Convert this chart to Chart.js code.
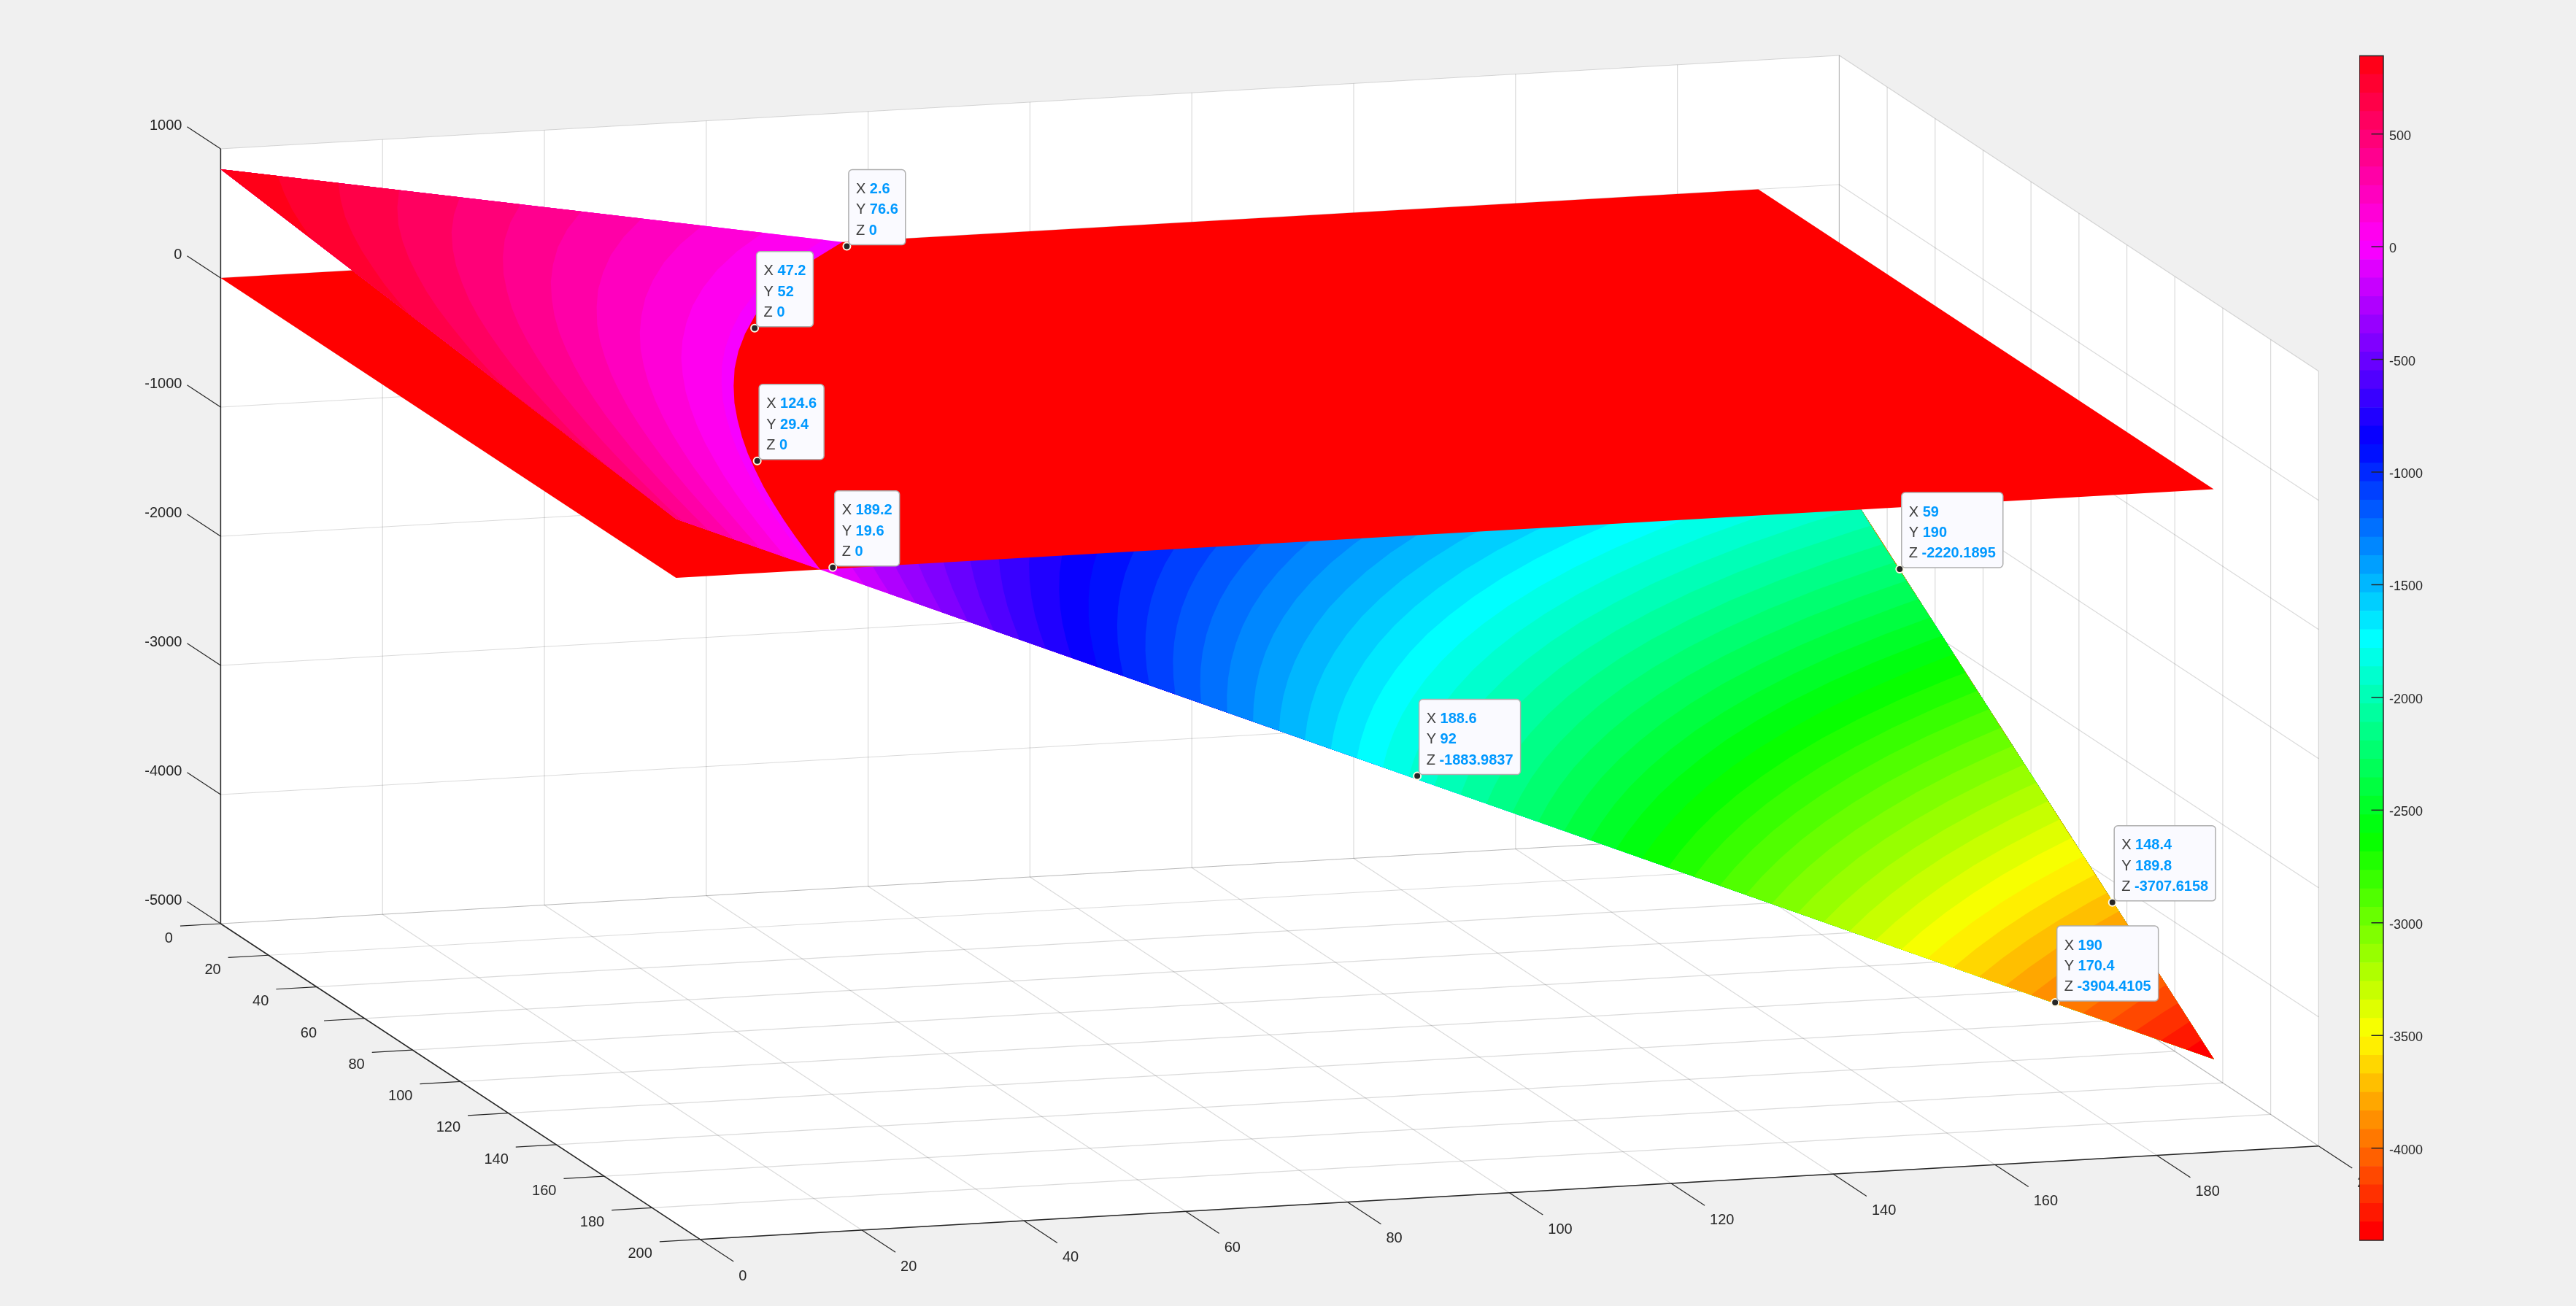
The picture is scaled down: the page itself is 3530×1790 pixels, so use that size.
<!DOCTYPE html>
<html>
<head>
<meta charset="utf-8">
<title>Surface</title>
<script src="https://cdn.jsdelivr.net/npm/chart.js@4"></script>
<style>
    html, body { margin: 0; padding: 0; background: #f0f0f0; }
    #wrap { position: relative; width: 3530px; height: 1790px; overflow: hidden; }
    #mainChart { position: absolute; left: 0; top: 0; }
    #barChart { position: absolute; left: 3233px; top: 61px; }
</style>
</head>
<body>
<div id="wrap">
    <canvas id="mainChart" width="3530" height="1790"></canvas>
    <canvas id="barChart" width="110" height="1654"></canvas>
</div>
<script>
// Axis ticks
const xTicks = [0, 20, 40, 60, 80, 100, 120, 140, 160, 180, 200];
const yTicks = [0, 20, 40, 60, 80, 100, 120, 140, 160, 180, 200];
const zTicks = [1000, 0, -1000, -2000, -3000, -4000, -5000];

// Surface heights: one row per X, one column per Y
const xRows = [0, 10, 20, 30, 40, 50, 60, 70, 80, 90, 100, 110, 120, 130, 140, 150, 160, 170, 180, 190];
const yCols = [0, 38, 76, 114, 152, 190];
const zRows = [
    [842, 426, 9, -407, -824, -1240],
    [822, 376, -70, -516, -962, -1407],
    [801, 326, -149, -624, -1099, -1574],
    [781, 277, -228, -732, -1237, -1741],
    [761, 227, -307, -841, -1374, -1908],
    [741, 178, -386, -949, -1512, -2075],
    [720, 128, -465, -1057, -1650, -2242],
    [700, 78, -543, -1165, -1787, -2409],
    [680, 29, -622, -1274, -1925, -2576],
    [660, -21, -701, -1382, -2062, -2743],
    [639, -70, -780, -1490, -2200, -2910],
    [619, -120, -859, -1598, -2338, -3077],
    [599, -170, -938, -1707, -2475, -3244],
    [579, -219, -1017, -1815, -2613, -3411],
    [558, -269, -1096, -1923, -2750, -3578],
    [538, -318, -1175, -2031, -2888, -3745],
    [518, -368, -1254, -2140, -3026, -3911],
    [498, -418, -1333, -2248, -3163, -4078],
    [477, -467, -1412, -2356, -3301, -4245],
    [457, -517, -1491, -2465, -3439, -4412]
];

// Flat red plane at Z = 0
const planeX = [0, 190, 190, 0];
const planeY = [0, 0, 190, 190];
const planeZ = [0, 0, 0, 0];

// Data tips
const tipX = [2.6, 47.2, 124.6, 189.2, 59, 188.6, 148.4, 190];
const tipY = [76.6, 52, 29.4, 19.6, 190, 92, 189.8, 170.4];
const tipZ = [0, 0, 0, 0, -2220.1895, -1883.9837, -3707.6158, -3904.4105];

// Colour limits and colour bar ticks
const colorMin = -4409;
const colorMax = 847;
const colorCount = 64;
const colorTicks = [500, 0, -500, -1000, -1500, -2000, -2500, -3000, -3500, -4000];

const TEXT = '#262626';
const GRID = 'rgba(38,38,38,0.17)';
const FONT = '"Liberation Sans", Arial, sans-serif';

// Fixed view of the box: data units to canvas pixels
function project(x, y, z) {
    return {
        x: 302.4 + 3.2845 * x + 11.09 * y,
        y: 381 + 2.1635 * x - 0.64 * y - 0.177 * z
    };
}

// hsv(64) colour map, index 0 is the lowest band
function bandColor(k) {
    const h = k / colorCount * 6;
    const i = Math.floor(h);
    const f = h - i;
    const up = Math.round(255 * f);
    const down = Math.round(255 * (1 - f));
    const rgb = [[255, up, 0], [down, 255, 0], [0, 255, up], [0, down, 255], [up, 0, 255], [255, 0, down]][i % 6];
    return `rgb(${rgb[0]},${rgb[1]},${rgb[2]})`;
}

function bandLevel(k) {
    return colorMin + k * (colorMax - colorMin) / colorCount;
}

// Where a row of the table reaches height L, heights fall along Y
function levelY(row, L) {
    const last = row.length - 1;
    if (L > row[0]) return -1;
    if (L < row[last]) return 1e6;
    for (let j = 0; j < last; j++) {
        if (L <= row[j] && L >= row[j + 1]) {
            return yCols[j] + (row[j] - L) / (row[j] - row[j + 1]) * (yCols[j + 1] - yCols[j]);
        }
    }
    return -1;
}

// Contour line of height L through the table, held to the edges of the surface
function levelCurve(L) {
    const last = yCols.length - 1;
    const pts = [];
    let prevState = null;
    xRows.forEach((xv, i) => {
        const row = zRows[i];
        const y = levelY(row, L);
        const state = y < 0 ? -1 : (y > yCols[last] ? 1 : 0);
        if (i > 0 && state !== prevState) {
            const col = (state === 1 || prevState === 1) ? last : 0;
            const a = zRows[i - 1][col];
            const t = (L - a) / (row[col] - a);
            if (t >= 0 && t <= 1) {
                pts.push(project(xRows[i - 1] + t * (xv - xRows[i - 1]), yCols[col], L));
            }
        }
        if (state === 0) pts.push(project(xv, y, L));
        else if (state === 1) pts.push(project(xv, yCols[last], row[last]));
        else pts.push(project(xv, yCols[0], row[0]));
        prevState = state;
    });
    return pts;
}

function lowerRegion(L) {
    const last = yCols.length - 1;
    const endX = xRows[xRows.length - 1];
    return levelCurve(L).concat([
        project(endX, yCols[last], zRows[xRows.length - 1][last]),
        project(xRows[0], yCols[last], zRows[0][last])
    ]);
}

function upperRegion(L) {
    const endX = xRows[xRows.length - 1];
    return levelCurve(L).concat([
        project(endX, yCols[0], zRows[xRows.length - 1][0]),
        project(xRows[0], yCols[0], zRows[0][0])
    ]);
}

// Dataset helpers
function lineSet(pts, color, width) {
    return { data: pts, borderColor: color, borderWidth: width, pointRadius: 0, fill: false, tension: 0 };
}

function polySet(pts, color) {
    return {
        data: pts.concat([pts[0]]),
        borderColor: color,
        borderWidth: 0,
        backgroundColor: color,
        pointRadius: 0,
        fill: 'shape',
        tension: 0
    };
}

const datasets = [];
const xMax = xTicks[xTicks.length - 1];
const yMax = yTicks[yTicks.length - 1];
const zMax = zTicks[0];
const zMin = zTicks[zTicks.length - 1];

// White floor and back walls
datasets.push(polySet([project(0, 0, zMin), project(xMax, 0, zMin), project(xMax, yMax, zMin), project(0, yMax, zMin)], '#ffffff'));
datasets.push(polySet([project(0, 0, zMax), project(0, yMax, zMax), project(0, yMax, zMin), project(0, 0, zMin)], '#ffffff'));
datasets.push(polySet([project(0, yMax, zMax), project(xMax, yMax, zMax), project(xMax, yMax, zMin), project(0, yMax, zMin)], '#ffffff'));

// Grid lines
xTicks.forEach(v => {
    datasets.push(lineSet([project(v, 0, zMin), project(v, yMax, zMin)], GRID, 1.2));
    datasets.push(lineSet([project(v, yMax, zMin), project(v, yMax, zMax)], GRID, 1.2));
});
yTicks.forEach(v => {
    datasets.push(lineSet([project(0, v, zMin), project(xMax, v, zMin)], GRID, 1.2));
    datasets.push(lineSet([project(0, v, zMin), project(0, v, zMax)], GRID, 1.2));
});
zTicks.forEach(v => {
    datasets.push(lineSet([project(0, 0, v), project(0, yMax, v)], GRID, 1.2));
    datasets.push(lineSet([project(0, yMax, v), project(xMax, yMax, v)], GRID, 1.2));
});

// Axis lines and tick marks
datasets.push(lineSet([project(0, 0, zMax), project(0, 0, zMin)], TEXT, 1.5));
datasets.push(lineSet([project(0, 0, zMin), project(xMax, 0, zMin)], TEXT, 1.5));
datasets.push(lineSet([project(xMax, 0, zMin), project(xMax, yMax, zMin)], TEXT, 1.5));
xTicks.forEach(v => datasets.push(lineSet([project(v, 0, zMin), project(v, -5, zMin)], TEXT, 1.2)));
yTicks.forEach(v => datasets.push(lineSet([project(xMax, v, zMin), project(xMax + 14, v, zMin)], TEXT, 1.2)));
zTicks.forEach(v => datasets.push(lineSet([project(0, 0, v), project(-14, 0, v)], TEXT, 1.2)));

// Surface below the plane, painted from the top band down
let zeroBand = 0;
while (bandLevel(zeroBand + 1) <= 0) zeroBand++;
datasets.push(polySet(lowerRegion(0), bandColor(zeroBand)));
for (let k = zeroBand; k > 0; k--) {
    datasets.push(polySet(lowerRegion(bandLevel(k)), bandColor(k - 1)));
}

// The plane hides whatever of the surface is under it
datasets.push(polySet(planeX.map((v, i) => project(v, planeY[i], planeZ[i])), '#ff0000'));

// Surface above the plane
datasets.push(polySet(upperRegion(0), bandColor(zeroBand)));
for (let k = zeroBand + 1; k < colorCount; k++) {
    datasets.push(polySet(upperRegion(bandLevel(k)), bandColor(k)));
}

// Data tip markers
datasets.push({
    data: tipX.map((v, i) => project(v, tipY[i], tipZ[i])),
    showLine: false,
    pointRadius: 5,
    pointBackgroundColor: TEXT,
    pointBorderColor: '#fffbe6',
    pointBorderWidth: 2
});

// Chart.js paints the first dataset last
datasets.reverse();

// Tick labels and data tip boxes go on top of the datasets
const labelPlugin = {
    id: 'labelPlugin',
    afterDatasetsDraw(chart) {
        const ctx = chart.ctx;
        const sx = chart.scales.x;
        const sy = chart.scales.y;
        const at = p => ({ x: sx.getPixelForValue(p.x), y: sy.getPixelForValue(p.y) });

        ctx.save();
        ctx.font = '20px ' + FONT;
        ctx.fillStyle = TEXT;
        ctx.textBaseline = 'middle';

        ctx.textAlign = 'right';
        xTicks.forEach(v => {
            const p = at(project(v, -5, zMin));
            ctx.fillText(String(v), p.x - 10, p.y + 17);
        });
        zTicks.forEach(v => {
            const p = at(project(-14, 0, v));
            ctx.fillText(String(v), p.x - 7, p.y - 1);
        });
        ctx.textAlign = 'left';
        yTicks.forEach(v => {
            const p = at(project(xMax + 14, v, zMin));
            ctx.fillText(String(v), p.x + 7, p.y + 20);
        });

        tipX.forEach((v, i) => drawTip(ctx, at(project(v, tipY[i], tipZ[i])), [v, tipY[i], tipZ[i]]));
        ctx.restore();
    }
};

function drawTip(ctx, p, values) {
    const names = ['X', 'Y', 'Z'];
    const plain = '20px ' + FONT;
    const bold = 'bold 20px ' + FONT;
    const widths = values.map((v, i) => {
        ctx.font = plain;
        const a = ctx.measureText(names[i] + ' ').width;
        ctx.font = bold;
        return a + ctx.measureText(String(v)).width;
    });
    const w = Math.max(...widths) + 20;
    const h = 103;
    const left = p.x + 2.5;
    const top = p.y - 2 - h;

    ctx.beginPath();
    ctx.roundRect(left, top, w, h, 5);
    ctx.fillStyle = '#fafaff';
    ctx.fill();
    ctx.strokeStyle = '#aeaeae';
    ctx.lineWidth = 1.5;
    ctx.stroke();

    ctx.textAlign = 'left';
    values.forEach((v, i) => {
        const ty = top + 27 + i * 28.3;
        ctx.font = plain;
        ctx.fillStyle = '#404040';
        ctx.fillText(names[i] + ' ', left + 10, ty);
        const nameWidth = ctx.measureText(names[i] + ' ').width;
        ctx.font = bold;
        ctx.fillStyle = '#0099ff';
        ctx.fillText(String(v), left + 10 + nameWidth, ty);
    });
}

new Chart(document.getElementById('mainChart'), {
    type: 'line',
    data: { datasets: datasets },
    options: {
        responsive: false,
        animation: false,
        devicePixelRatio: 1,
        layout: { padding: 0, autoPadding: false },
        plugins: { legend: { display: false }, tooltip: { enabled: false } },
        scales: {
            x: { type: 'linear', display: false, min: 0, max: 3530 },
            y: { type: 'linear', display: false, min: 0, max: 1790, reverse: true }
        }
    },
    plugins: [labelPlugin]
});

// Colour bar: one floating bar per band
const bandSets = [];
for (let k = 0; k < colorCount; k++) {
    bandSets.push({
        data: [[bandLevel(k), bandLevel(k + 1)]],
        backgroundColor: bandColor(k),
        borderWidth: 0,
        barPercentage: 1,
        categoryPercentage: 1
    });
}

const barFrame = {
    id: 'barFrame',
    afterDatasetsDraw(chart) {
        const { ctx, chartArea } = chart;
        const sy = chart.scales.y;
        ctx.save();
        ctx.strokeStyle = TEXT;
        ctx.lineWidth = 1.5;
        sy.ticks.forEach(t => {
            const py = sy.getPixelForValue(t.value);
            ctx.beginPath();
            ctx.moveTo(chartArea.right - chartArea.width / 2, py);
            ctx.lineTo(chartArea.right, py);
            ctx.stroke();
        });
        ctx.strokeRect(chartArea.left, chartArea.top, chartArea.width, chartArea.height);
        ctx.restore();
    }
};

new Chart(document.getElementById('barChart'), {
    type: 'bar',
    data: { labels: [''], datasets: bandSets },
    options: {
        responsive: false,
        animation: false,
        devicePixelRatio: 1,
        layout: { padding: { left: 0, right: 0, top: 15.5, bottom: 15 }, autoPadding: false },
        plugins: { legend: { display: false }, tooltip: { enabled: false } },
        scales: {
            x: { display: false },
            y: {
                position: 'right',
                min: colorMin,
                max: colorMax,
                afterFit: scale => { scale.width = 77; },
                afterBuildTicks: scale => { scale.ticks = colorTicks.map(v => ({ value: v })); },
                grid: { display: false },
                border: { display: false },
                ticks: {
                    autoSkip: false,
                    padding: 0,
                    labelOffset: 3,
                    color: TEXT,
                    font: { family: FONT, size: 18 },
                    callback: v => String(v)
                }
            }
        },
        datasets: { bar: { grouped: false } }
    },
    plugins: [barFrame]
});
</script>
</body>
</html>
